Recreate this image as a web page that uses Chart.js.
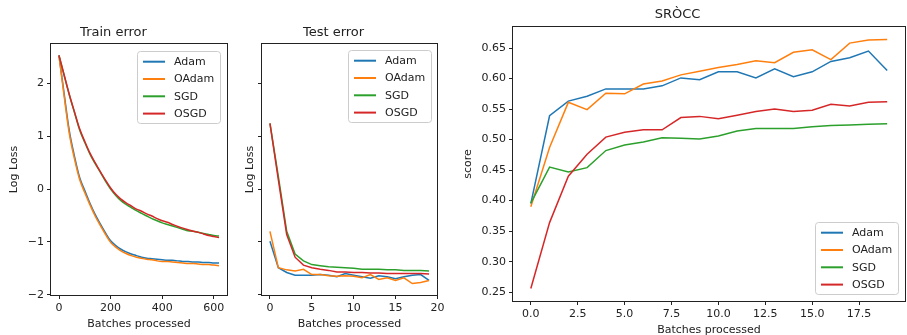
<!DOCTYPE html>
<html>
<head>
<meta charset="utf-8">
<script src="https://cdn.jsdelivr.net/npm/chart.js@4.4.0/dist/chart.umd.min.js"></script>
<style>
  html, body { margin: 0; padding: 0; background: #fff; overflow: hidden; }
  body { width: 907px; height: 335px; position: relative; }
  canvas { position: absolute; top: 0; }
</style>
</head>
<body>
<canvas id="train" width="240" height="335" style="left:0px"></canvas>
<canvas id="test" width="220" height="335" style="left:230px"></canvas>
<canvas id="srocc" width="457" height="340" style="left:450px"></canvas>
<script>
const seriesNames = ['Adam', 'OAdam', 'SGD', 'OSGD'];
const seriesColors = ['#1f77b4', '#ff7f0e', '#2ca02c', '#d62728'];

// train error (log loss) vs batches
const trainBatches = [0, 20, 40, 60, 80, 100, 120, 140, 160, 180, 200, 220, 240, 260, 280, 300,
  320, 340, 360, 380, 400, 420, 440, 460, 480, 500, 520, 540, 560, 580, 600, 620];
const trainAdam = [2.53, 1.80, 1.10, 0.62, 0.22, -0.03, -0.27, -0.48, -0.66, -0.83, -0.98, -1.07, -1.14, -1.19, -1.23, -1.26,
  -1.29, -1.31, -1.32, -1.33, -1.34, -1.35, -1.35, -1.36, -1.37, -1.37, -1.38, -1.38, -1.39, -1.39, -1.40, -1.40];
const trainOAdam = [2.52, 1.76, 1.05, 0.57, 0.18, -0.07, -0.30, -0.51, -0.69, -0.86, -1.01, -1.10, -1.17, -1.22, -1.26, -1.29,
  -1.31, -1.33, -1.34, -1.36, -1.37, -1.37, -1.38, -1.39, -1.40, -1.41, -1.41, -1.42, -1.43, -1.43, -1.44, -1.45];
const trainSGD = [2.53, 2.15, 1.78, 1.45, 1.12, 0.88, 0.66, 0.48, 0.32, 0.15, 0.00, -0.12, -0.22, -0.29, -0.35, -0.41,
  -0.46, -0.51, -0.56, -0.60, -0.64, -0.67, -0.70, -0.73, -0.76, -0.79, -0.80, -0.82, -0.84, -0.86, -0.88, -0.89];
const trainOSGD = [2.53, 2.16, 1.79, 1.46, 1.14, 0.90, 0.68, 0.50, 0.33, 0.17, 0.02, -0.10, -0.19, -0.26, -0.32, -0.38,
  -0.42, -0.47, -0.51, -0.56, -0.60, -0.63, -0.67, -0.71, -0.74, -0.77, -0.80, -0.82, -0.85, -0.88, -0.90, -0.92];

// test error (log loss)
const testBatches = [0, 1, 2, 3, 4, 5, 6, 7, 8, 9, 10, 11, 12, 13, 14, 15, 16, 17, 18, 19];
const testAdam = [-0.99, -1.49, -1.58, -1.63, -1.63, -1.63, -1.62, -1.63, -1.66, -1.60, -1.63, -1.66, -1.69, -1.64, -1.66, -1.70, -1.66, -1.63, -1.62, -1.73];
const testOAdam = [-0.80, -1.49, -1.53, -1.55, -1.52, -1.62, -1.62, -1.64, -1.65, -1.64, -1.65, -1.68, -1.62, -1.71, -1.68, -1.73, -1.68, -1.79, -1.77, -1.73];
const testSGD = [1.245, 0.24, -0.80, -1.23, -1.36, -1.43, -1.45, -1.47, -1.48, -1.49, -1.50, -1.52, -1.52, -1.52, -1.53, -1.53, -1.54, -1.54, -1.54, -1.55];
const testOSGD = [1.245, 0.18, -0.86, -1.29, -1.44, -1.49, -1.52, -1.54, -1.57, -1.57, -1.58, -1.58, -1.59, -1.59, -1.60, -1.60, -1.60, -1.60, -1.60, -1.61];

// SROCC score
const sroccBatches = [0, 1, 2, 3, 4, 5, 6, 7, 8, 9, 10, 11, 12, 13, 14, 15, 16, 17, 18, 19];
const sroccAdam = [0.395, 0.539, 0.563, 0.571, 0.583, 0.583, 0.583, 0.588, 0.601, 0.598, 0.611, 0.611, 0.601, 0.616, 0.603, 0.611, 0.628, 0.634, 0.645, 0.613];
const sroccOAdam = [0.390, 0.487, 0.561, 0.549, 0.576, 0.575, 0.591, 0.596, 0.606, 0.612, 0.618, 0.623, 0.629, 0.626, 0.643, 0.647, 0.631, 0.658, 0.663, 0.664];
const sroccSGD = [0.396, 0.455, 0.447, 0.454, 0.482, 0.491, 0.496, 0.503, 0.502, 0.501, 0.506, 0.514, 0.518, 0.518, 0.518, 0.521, 0.523, 0.524, 0.525, 0.526];
const sroccOSGD = [0.256, 0.364, 0.440, 0.476, 0.504, 0.512, 0.516, 0.516, 0.536, 0.538, 0.534, 0.540, 0.546, 0.550, 0.546, 0.548, 0.558, 0.555, 0.561, 0.562];

const lossTicks = [-2, -1, 0, 1, 2];
const trainTicks = [0, 200, 400, 600];
const testTicks = [0, 5, 10, 15, 20];
const sroccXTicks = [0, 2.5, 5, 7.5, 10, 12.5, 15, 17.5];
const sroccYTicks = [0.25, 0.30, 0.35, 0.40, 0.45, 0.50, 0.55, 0.60, 0.65];

Chart.defaults.font.family = '"DejaVu Sans", sans-serif';
Chart.defaults.font.size = 11;
Chart.defaults.color = '#222';

const ink = '#222';
const minus = v => String(v).replace('-', '\u2212');

// matplotlib-ish box around the axes
const frame = {
  id: 'frame',
  afterDatasetsDraw(chart) {
    const { ctx, chartArea: a } = chart;
    ctx.save();
    ctx.strokeStyle = ink;
    ctx.lineWidth = 1;
    ctx.strokeRect(Math.round(a.left) - 0.5, Math.round(a.top) - 0.5,
      Math.round(a.right - a.left) + 1, Math.round(a.bottom - a.top) + 1);
    ctx.restore();
  }
};

// legend drawn inside the axes, with a light box
const boxLegend = {
  id: 'boxLegend',
  afterDraw(chart, args, opts) {
    const { ctx, chartArea: a } = chart;
    const sets = chart.data.datasets;
    ctx.save();
    ctx.font = '11px "DejaVu Sans"';
    const textW = Math.max(...sets.map(d => ctx.measureText(d.label).width));
    const w = Math.round(6 + 22 + 9 + textW + 6);
    const rowH = 17.3;
    const h = 72;
    const x = Math.round(a.right - opts.inset - w);
    const y = Math.round(opts.bottom ? a.bottom - opts.inset - h : a.top + opts.inset);
    ctx.fillStyle = 'rgba(255,255,255,0.8)';
    ctx.strokeStyle = '#cccccc';
    ctx.lineWidth = 1;
    ctx.beginPath();
    ctx.roundRect(x + 0.5, y + 0.5, w, h, 3);
    ctx.fill();
    ctx.stroke();
    sets.forEach((d, i) => {
      const cy = y + 10.7 + i * rowH;
      ctx.strokeStyle = d.borderColor;
      ctx.lineWidth = 2;
      ctx.beginPath();
      ctx.moveTo(x + 6, cy);
      ctx.lineTo(x + 28, cy);
      ctx.stroke();
      ctx.fillStyle = ink;
      ctx.textBaseline = 'middle';
      ctx.fillText(d.label, x + 37, cy + 0.5);
    });
    ctx.restore();
  }
};

function lineSets(xs, ys, smooth) {
  return ys.map((y, i) => ({
    label: seriesNames[i],
    data: xs.map((b, j) => ({ x: b, y: y[j] })),
    borderColor: seriesColors[i],
    backgroundColor: seriesColors[i],
    borderWidth: 1.5,
    pointRadius: 0,
    fill: false,
    order: ys.length - i,
    cubicInterpolationMode: smooth ? 'monotone' : 'default',
    tension: 0
  }));
}

function axis(cfg) {
  return {
    type: 'linear',
    min: cfg.min,
    max: cfg.max,
    afterBuildTicks: s => { s.ticks = cfg.ticks.map(v => ({ value: v })); },
    afterFit: s => { if (cfg.width != null) s.width = cfg.width; if (cfg.height != null) s.height = cfg.height; },
    grid: { display: true, drawOnChartArea: false, drawTicks: true, tickLength: 4, color: ink },
    border: { display: false },
    ticks: { display: cfg.labels !== false, color: ink, padding: 3, maxRotation: 0, autoSkip: false, callback: cfg.fmt },
    title: { display: true, text: cfg.title, color: ink, padding: cfg.pad }
  };
}

function makeChart(id, o) {
  return new Chart(document.getElementById(id), {
    type: 'line',
    data: { datasets: o.datasets },
    options: {
      responsive: false,
      animation: false,
      events: [],
      layout: { padding: { left: 0, right: o.padRight, top: 0, bottom: 0 } },
      plugins: {
        legend: { display: false },
        tooltip: { enabled: false },
        title: { display: true, text: o.title, color: ink, font: { size: 13, weight: 'normal' }, padding: o.titlePad },
        boxLegend: o.legend
      },
      scales: { x: o.x, y: o.y }
    },
    plugins: [frame, boxLegend]
  });
}

makeChart('train', {
  title: 'Train error',
  titlePad: { top: 25.2, bottom: 3.2 },
  padRight: 13,
  legend: { inset: 7, bottom: false },
  datasets: lineSets(trainBatches, [trainAdam, trainOAdam, trainSGD, trainOSGD], true),
  x: axis({ min: -31, max: 651, ticks: trainTicks, height: 40, title: 'Batches processed', pad: { top: 0, bottom: 4.4 }, fmt: minus }),
  y: axis({ min: -2.006, max: 2.746, ticks: lossTicks, width: 51, title: 'Log Loss', pad: { top: 7.4, bottom: 0 }, fmt: minus })
});

makeChart('test', {
  title: 'Test error',
  titlePad: { top: 25.2, bottom: 3.2 },
  padRight: 13,
  legend: { inset: 6, bottom: false },
  datasets: lineSets(testBatches, [testAdam, testOAdam, testSGD, testOSGD], false),
  x: axis({ min: -0.95, max: 19.95, ticks: testTicks, height: 40, title: 'Batches processed', pad: { top: 0, bottom: 4.4 }, fmt: minus }),
  y: axis({ min: -2.006, max: 2.746, ticks: lossTicks, width: 32, labels: false, title: 'Log Loss', pad: { top: 13.4, bottom: 0 } })
});

makeChart('srocc', {
  title: 'SRÒCC',
  titlePad: { top: 7.2, bottom: 4.2 },
  padRight: 2,
  legend: { inset: 7, bottom: true },
  datasets: lineSets(sroccBatches, [sroccAdam, sroccOAdam, sroccSGD, sroccOSGD], false),
  x: axis({ min: -0.95, max: 19.95, ticks: sroccXTicks, height: 39, title: 'Batches processed', pad: { top: 0, bottom: 3.4 }, fmt: v => v.toFixed(1) }),
  y: axis({ min: 0.2356, max: 0.6844, ticks: sroccYTicks, width: 63, title: 'score', pad: { top: 11.4, bottom: 0 }, fmt: v => v.toFixed(2) })
});
</script>
</body>
</html>
